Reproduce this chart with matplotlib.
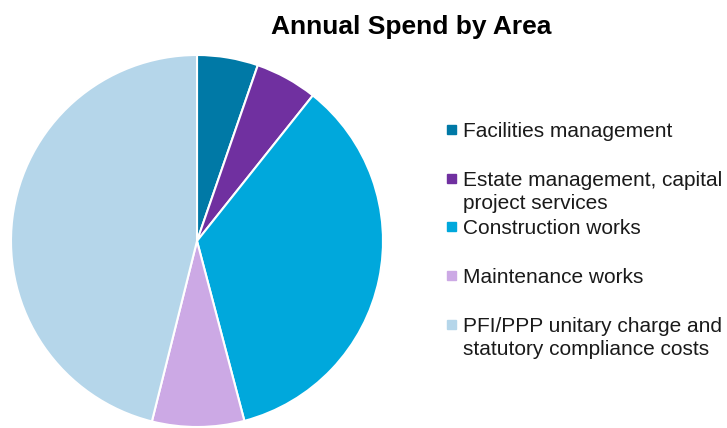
import matplotlib.pyplot as plt
from matplotlib.patches import Rectangle

plt.rcParams['font.family'] = ['Liberation Sans', 'DejaVu Sans']

labels = [
    "Facilities management",
    "Estate management, capital\nproject services",
    "Construction works",
    "Maintenance works",
    "PFI/PPP unitary charge and\nstatutory compliance costs",
]
shares = [5.3, 5.4, 35.2, 8.0, 46.1]
colors = ["#0079A6", "#7030A0", "#00A8DC", "#CCA9E5", "#B5D6EA"]

W, H = 727, 428
fig = plt.figure(figsize=(W / 100, H / 100), dpi=100)

# pie axes: centre (197, 241) px, radius ~186 px
cx, cy, r = 197, 241, 186
ax = fig.add_axes([(cx - r) / W, (H - cy - r) / H, 2 * r / W, 2 * r / H])
ax.pie(shares, colors=colors, startangle=90, counterclock=False, radius=1,
       wedgeprops=dict(edgecolor="white", linewidth=1.5))
ax.set_xlim(-1, 1)
ax.set_ylim(-1, 1)
ax.set_aspect("equal")
ax.axis("off")

fig.text(411 / W, 1 - 34 / H, "Annual Spend by Area", ha="center", va="baseline",
         fontsize=19, fontweight="bold")

# legend, laid out by hand to follow the reference spacing (baseline of first line)
legend_base = [137, 186, 234, 283, 332]
for lab, col, y in zip(labels, colors, legend_base):
    fig.patches.append(Rectangle((447 / W, 1 - (y - 3) / H), 9 / W, 9 / H,
                                 transform=fig.transFigure, color=col))
    for i, line in enumerate(lab.split("\n")):
        fig.text(463 / W, 1 - (y + 23 * i) / H, line, ha="left", va="baseline",
                 fontsize=15, color="#1a1a1a")

fig.savefig("out.png", dpi=100)
